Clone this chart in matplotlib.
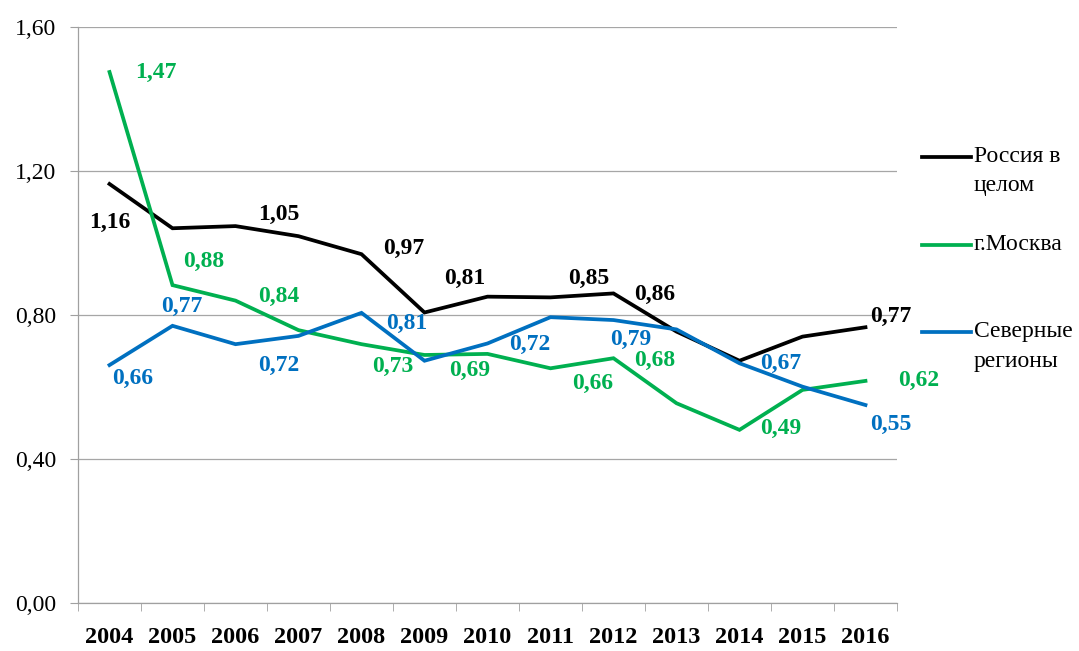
import matplotlib
matplotlib.use("Agg")
import matplotlib.pyplot as plt
from matplotlib.lines import Line2D

years = ["2004", "2005", "2006", "2007", "2008", "2009", "2010",
         "2011", "2012", "2013", "2014", "2015", "2016"]

russia = [1.164, 1.041, 1.047, 1.019, 0.969, 0.807, 0.851,
          0.849, 0.860, 0.754, 0.673, 0.740, 0.766]
moscow = [1.475, 0.883, 0.840, 0.758, 0.719, 0.689, 0.692,
          0.652, 0.680, 0.555, 0.481, 0.592, 0.617]
north = [0.661, 0.770, 0.719, 0.742, 0.806, 0.673, 0.721,
         0.794, 0.786, 0.760, 0.666, 0.601, 0.550]

series_names = ["Россия в\nцелом", "г.Москва", "Северные\nрегионы"]
colors = ["#000000", "#00B050", "#0070C0"]

# data labels as they sit in the source chart (text, x in categories, y)
russia_labels = ["1,16", "1,05", "0,97", "0,81", "0,85", "0,86", "0,77"]
russia_lx = [0.0, 2.68, 4.67, 5.64, 7.6, 8.65, 12.4]
russia_ly = [1.058, 1.078, 0.985, 0.902, 0.902, 0.856, 0.797]

moscow_labels = ["1,47", "0,88", "0,84", "0,73", "0,69", "0,66", "0,68", "0,49", "0,62"]
moscow_lx = [0.73, 1.5, 2.68, 4.5, 5.72, 7.67, 8.65, 10.66, 12.85]
moscow_ly = [1.475, 0.948, 0.851, 0.656, 0.647, 0.610, 0.675, 0.485, 0.617]

north_labels = ["0,66", "0,77", "0,72", "0,81", "0,72", "0,79", "0,67", "0,55"]
north_lx = [0.36, 1.15, 2.68, 4.72, 6.67, 8.28, 10.66, 12.4]
north_ly = [0.624, 0.823, 0.661, 0.777, 0.717, 0.731, 0.666, 0.497]

plt.rcParams["font.family"] = ["Liberation Serif", "DejaVu Serif"]

fig = plt.figure(figsize=(10.79, 6.51), dpi=100)
ax = fig.add_axes([0.0723, 0.0737, 0.759, 0.8848])

x = list(range(len(years)))
for values, color in zip([russia, moscow, north], colors):
    ax.plot(x, values, color=color, linewidth=2.7, solid_joinstyle="miter")

label_sets = [
    (russia_labels, russia_lx, russia_ly, colors[0]),
    (moscow_labels, moscow_lx, moscow_ly, colors[1]),
    (north_labels, north_lx, north_ly, colors[2]),
]
for texts, lx, ly, color in label_sets:
    for t, xi, yi in zip(texts, lx, ly):
        ax.text(xi, yi, t, color=color, fontsize=17, fontweight="bold",
                ha="center", va="center")

ax.set_xlim(-0.5, len(years) - 0.5)
ax.set_ylim(0, 1.6)
ax.set_yticks([0, 0.4, 0.8, 1.2, 1.6])
ax.set_yticklabels(["0,00", "0,40", "0,80", "1,20", "1,60"], fontsize=17)
ax.set_xticks(x)
ax.set_xticklabels(years, fontsize=17.5, fontweight="bold")
ax.set_xticks([i - 0.5 for i in range(len(years) + 1)], minor=True)
ax.tick_params(axis="x", which="major", length=0, pad=17)
ax.tick_params(axis="x", which="minor", length=5.8, color="#A0A0A0", direction="out")
ax.tick_params(axis="y", length=5.8, color="#A0A0A0", pad=10)

ax.grid(axis="y", color="#A6A6A6", linewidth=0.9)
ax.set_axisbelow(True)
for side in ["top", "right"]:
    ax.spines[side].set_visible(False)
for side in ["left", "bottom"]:
    ax.spines[side].set_color("#A0A0A0")
    ax.spines[side].set_linewidth(0.9)

# legend drawn by hand so the handle sits on the first text line
legend_y = [157, 245, 332]
line_gap = 29
for name, color, yp in zip(series_names, colors, legend_y):
    fy = 1 - yp / 651
    fig.add_artist(Line2D([922 / 1079, 971 / 1079], [fy, fy], color=color,
                          linewidth=2.7, transform=fig.transFigure))
    for k, part in enumerate(name.split("\n")):
        fig.text(974 / 1079, 1 - (yp + k * line_gap) / 651, part,
                 fontsize=17, ha="left", va="center")

fig.savefig("out.png", dpi=100)
